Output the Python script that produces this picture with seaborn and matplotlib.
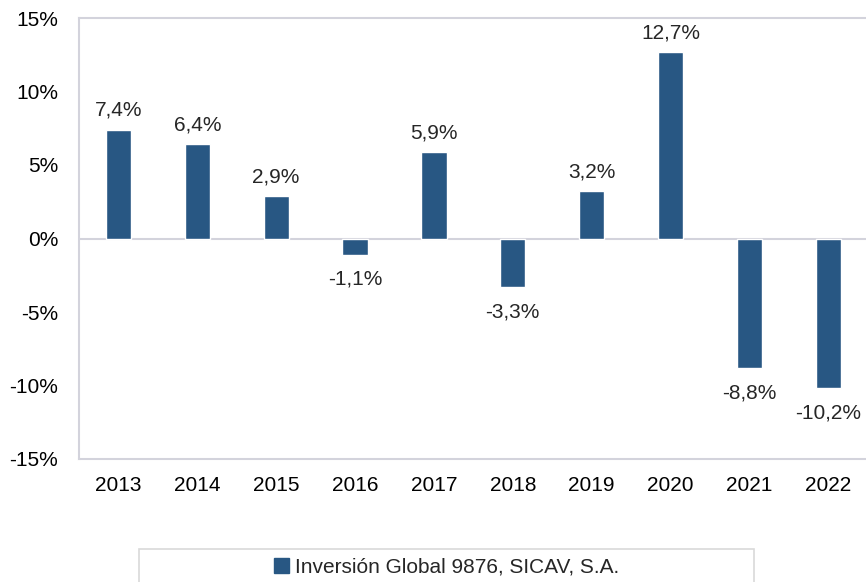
import numpy as np
import pandas as pd
import matplotlib.pyplot as plt
import matplotlib.patches as mpatches
import seaborn as sns

years = ['2013', '2014', '2015', '2016', '2017', '2018', '2019', '2020', '2021', '2022']
returns = [7.4, 6.4, 2.9, -1.1, 5.9, -3.3, 3.2, 12.7, -8.8, -10.2]
series_name = 'Inversión Global 9876, SICAV, S.A.'
yticks = [-15, -10, -5, 0, 5, 10, 15]

bar_color = '#285783'
edge = '#d3d3dc'
fs = 15

sns.set_style('white')
plt.rcParams['font.family'] = ['Liberation Sans', 'DejaVu Sans']

df = pd.DataFrame({'year': years, 'ret': returns})

fig = plt.figure(figsize=(8.66, 5.82), dpi=100)
ax = fig.add_axes([79/866, 1-459/582, 1-79/866 + 0.002, 441/582])
sns.barplot(data=df, x='year', y='ret', color=bar_color, width=0.32,
            saturation=1, ax=ax)

ax.set_ylim(-15, 15)
ax.set_yticks(yticks)
ax.set_yticklabels([f'{t}%' for t in yticks])
ax.set_xlim(-0.5, len(years) - 0.5)
ax.axhline(0, color=edge, lw=1.5, zorder=0)
ax.set_xlabel('')
ax.set_ylabel('')
ax.tick_params(axis='both', length=0, labelsize=fs, colors='black')
ax.tick_params(axis='y', pad=15)
ax.tick_params(axis='x', pad=12)
for s in ['left', 'top', 'bottom']:
    ax.spines[s].set_color(edge)
    ax.spines[s].set_linewidth(1.5)
ax.spines['right'].set_visible(False)

# value labels
for i, v in enumerate(returns):
    lab = f'{v:.1f}'.replace('.', ',') + '%'
    if v >= 0:
        ax.annotate(lab, (i, v), xytext=(0, 7), textcoords='offset points',
                    ha='center', va='bottom', fontsize=fs)
    else:
        ax.annotate(lab, (i, v), xytext=(0, -11), textcoords='offset points',
                    ha='center', va='top', fontsize=fs)

# legend box
box = mpatches.Rectangle((139/866, -0.05), (754-139)/866, 0.05 + (582-549)/582,
                         transform=fig.transFigure, fill=False, edgecolor='#d9d9d9',
                         lw=1.2)
fig.add_artist(box)
handle = mpatches.Patch(color=bar_color, label=series_name)
fig.legend(handles=[handle], loc='center', bbox_to_anchor=(447/866, 1-567/582),
           frameon=False, fontsize=fs, handlelength=0.7, handleheight=0.7,
           handletextpad=0.3)

fig.savefig('out.png', dpi=100)
